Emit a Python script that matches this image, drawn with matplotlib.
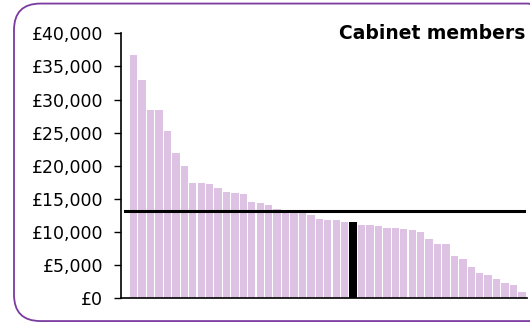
import numpy as np
import matplotlib
matplotlib.use("Agg")
import matplotlib.pyplot as plt
from matplotlib.patches import FancyBboxPatch
from matplotlib.ticker import FuncFormatter

# Expenses per MP, sorted descending; one highlighted (black) bar
values = [36700, 32900, 28400, 28400, 25200, 22000, 20000, 17400, 17400, 17300,
          16700, 16100, 15900, 15700, 14500, 14350, 14100, 13550, 13300, 13200,
          13100, 12500, 11900, 11850, 11750, 11500, 11450, 11000, 11000, 10900,
          10650, 10550, 10400, 10250, 9950, 8900, 8150, 8150, 6450, 5900,
          4650, 3750, 3450, 2900, 2250, 1950, 950]
highlight_idx = 26
average = 13250
title = "Cabinet members"

fig = plt.figure(figsize=(5.30, 3.23), dpi=100)

# rounded purple frame (right side runs off the edge of the image)
frame = FancyBboxPatch((0.0264, 0.006), 1.02, 0.983,
                       boxstyle="round,pad=0,rounding_size=0.05",
                       transform=fig.transFigure, facecolor="none",
                       edgecolor="#7a3aa0", linewidth=1.3,
                       mutation_aspect=530 / 323, zorder=-1)
fig.patches.append(frame)

ax = fig.add_axes([0.2283, 0.0765, 0.766, 0.8204])
ax.set_facecolor("none")

x = np.arange(len(values))
colors = ["#dec2e3"] * len(values)
colors[highlight_idx] = "black"
ax.bar(x, values, width=0.87, color=colors, edgecolor="none", zorder=2)

ax.plot([-1.0, len(values) - 0.8], [average, average], color="black",
        linewidth=2.2, zorder=3)

ax.set_xlim(-1.5, 46.6)
ax.set_ylim(0, 40000)
ax.set_yticks(range(0, 40001, 5000))
ax.yaxis.set_major_formatter(FuncFormatter(lambda v, p: f"£{int(v):,}"))
ax.set_xticks([])
ax.tick_params(axis="y", labelsize=12.5, length=5, width=1, pad=8)
for side in ["top", "right"]:
    ax.spines[side].set_visible(False)
for side in ["left", "bottom"]:
    ax.spines[side].set_linewidth(1.2)

ax.text(0.995, 1.0, title, transform=ax.transAxes, ha="right", va="center",
        fontsize=13.5, fontweight="bold")

fig.savefig("out.png", dpi=100)
